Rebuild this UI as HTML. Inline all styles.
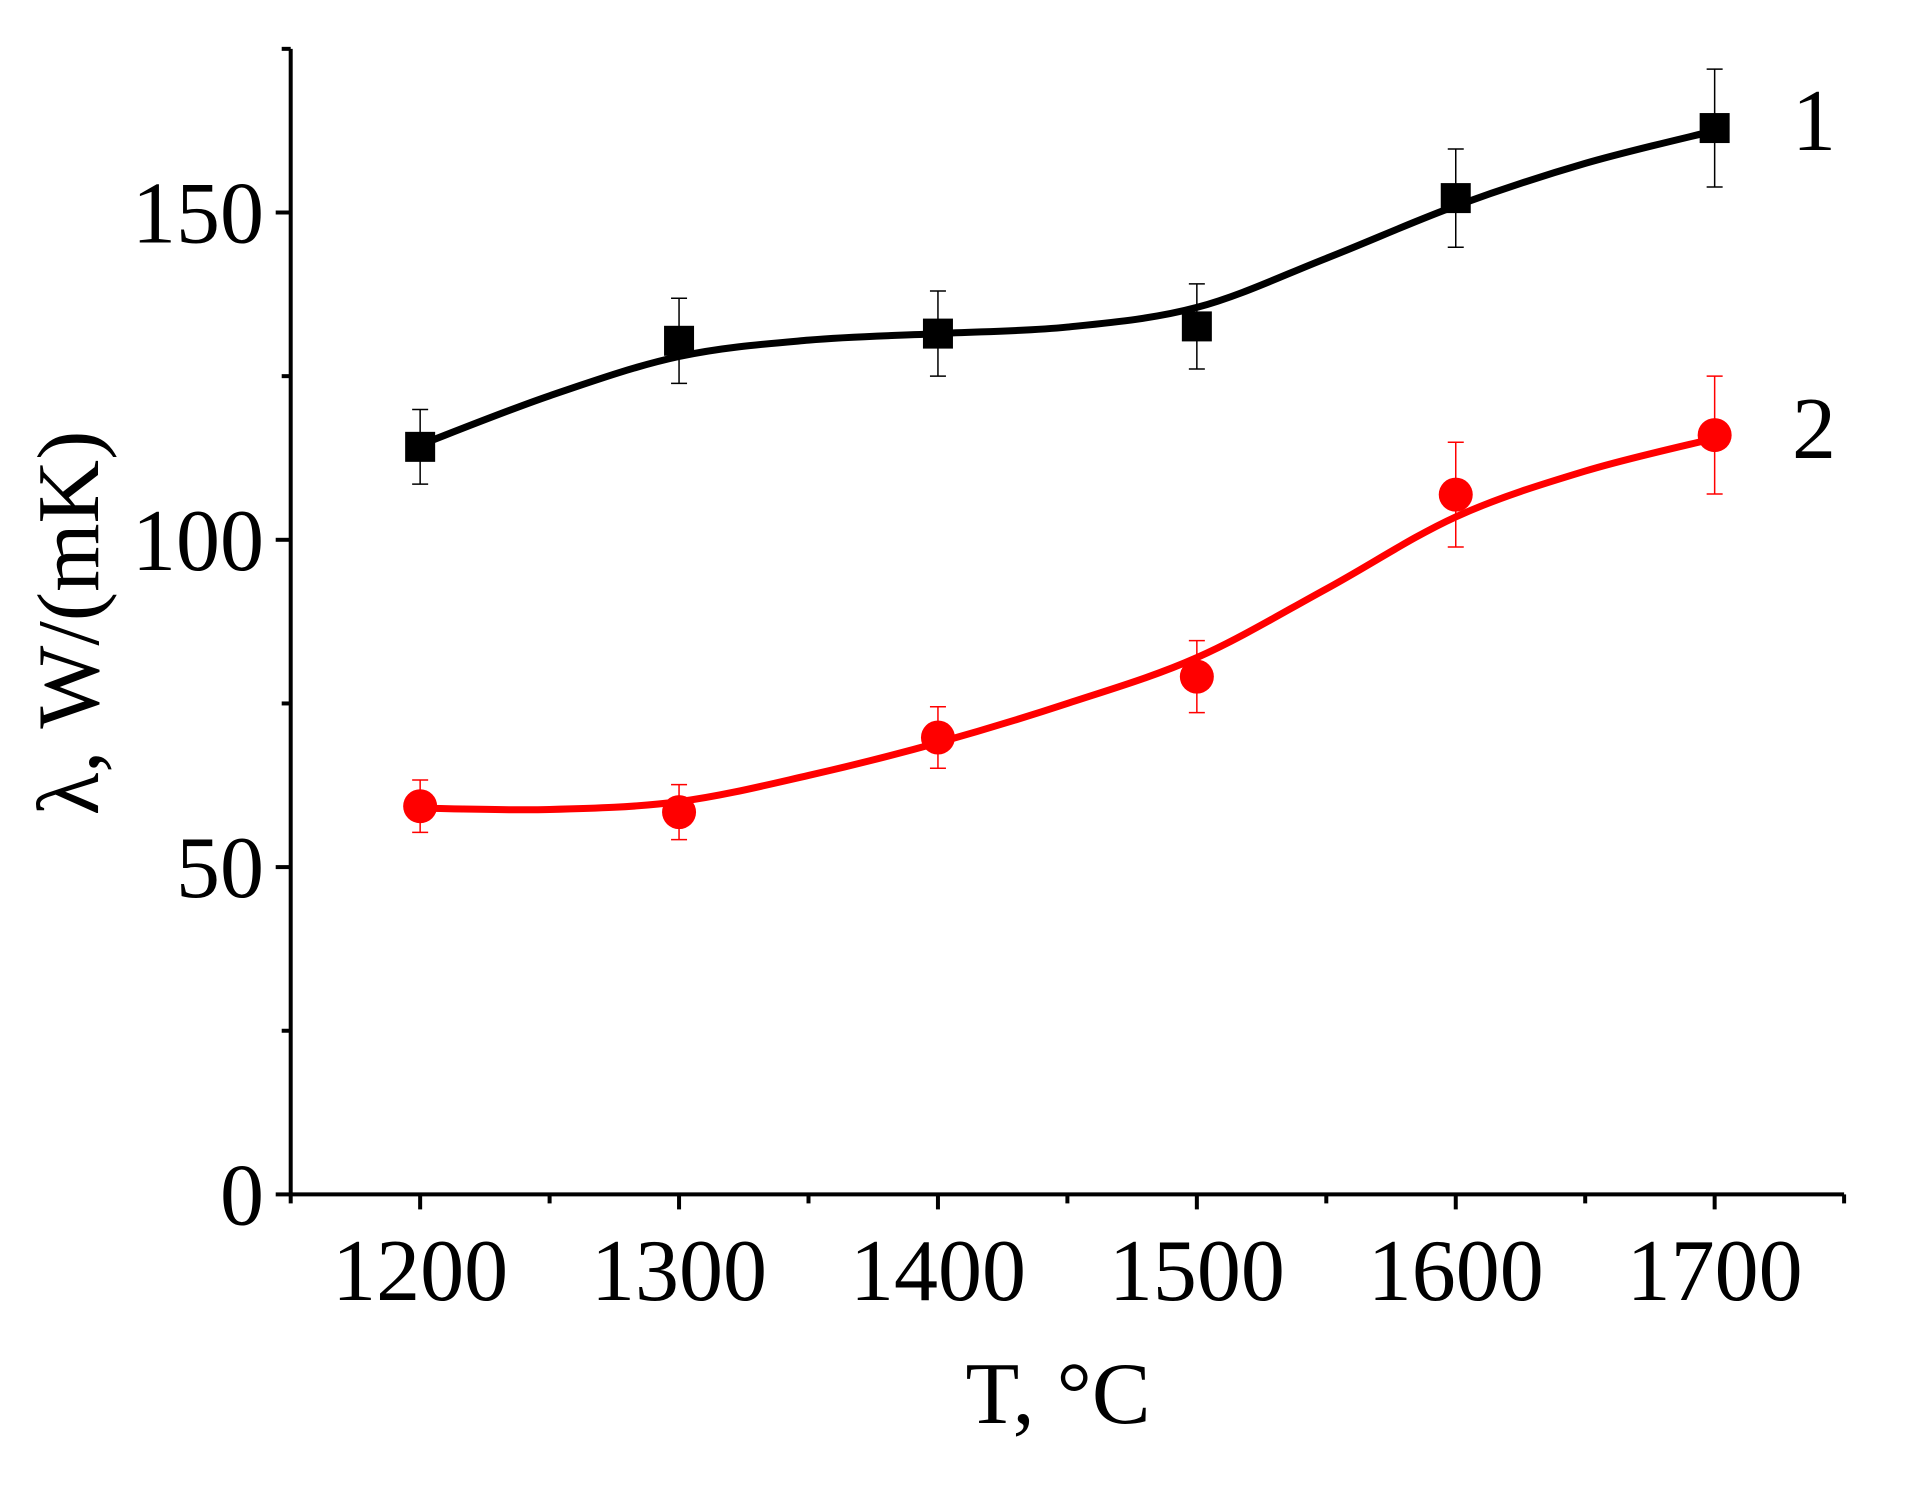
<!DOCTYPE html>
<html><head><meta charset="utf-8"><style>
html,body{margin:0;padding:0;background:#fff;}
svg text{font-family:"Liberation Serif",serif;}
</style></head><body>
<svg id="chart" width="1913" height="1491" viewBox="0 0 1913 1491" xmlns="http://www.w3.org/2000/svg"></svg>
<script>
const temps = [1200, 1300, 1400, 1500, 1600, 1700];
const series1 = [114.2, 130.4, 131.5, 132.6, 152.2, 162.9];
const err1 = [5.7, 6.5, 6.5, 6.5, 7.5, 9];
const series2 = [59.3, 58.4, 69.8, 79.1, 106.9, 116];
const err2 = [4, 4.2, 4.7, 5.5, 8, 9];
const fitT = [1200, 1250, 1300, 1350, 1400, 1450, 1500, 1550, 1600, 1650, 1700];
const fit1 = [114.5, 122, 128, 130.5, 131.5, 132.5, 135.5, 143, 151, 157.5, 162.5];
const fit2 = [59, 58.8, 60, 64, 69, 75, 82, 92.5, 103.5, 110.5, 115.5];
const xMajor = [1200, 1300, 1400, 1500, 1600, 1700];
const xMinor = [1150, 1250, 1350, 1450, 1550, 1650, 1750];
const yMajor = [0, 50, 100, 150];
const yMinor = [25, 75, 125, 175];

const NS = "http://www.w3.org/2000/svg";
const svg = document.getElementById('chart');
const X0 = 290.7, XMIN = 1150, XPX = 2.589;
const Y0 = 1194.4, YPX = 6.546;
const sx = v => X0 + (v - XMIN) * XPX;
const sy = v => Y0 - v * YPX;
function el(tag, attrs, parent) {
  const e = document.createElementNS(NS, tag);
  for (const k in attrs) e.setAttribute(k, attrs[k]);
  (parent || svg).appendChild(e);
  return e;
}
const ax = el('path', {d:`M${sx(1150)},${sy(175)} V${Y0} H${sx(1750)}`, fill:'none', stroke:'#000', 'stroke-width':4});


xMajor.forEach(v => {
  const t = el('line', {x1:sx(v), x2:sx(v), y1:Y0, y2:Y0+15, stroke:'#000','stroke-width':4});
  
  
  const l = el('text', {x:sx(v), y:1300, 'font-size':88, 'text-anchor':'middle'});
  l.textContent = v;
  
  
});
xMinor.forEach(v => {
  const t = el('line', {x1:sx(v), x2:sx(v), y1:Y0, y2:Y0+9, stroke:'#000','stroke-width':4});
  
  
});
yMajor.forEach(v => {
  const t = el('line', {x1:X0-15, x2:X0, y1:sy(v), y2:sy(v), stroke:'#000','stroke-width':4});
  
  
  const l = el('text', {x:264, y:sy(v)+30, 'font-size':88, 'text-anchor':'end'});
  l.textContent = v;
  
  
});
yMinor.forEach(v => {
  const t = el('line', {x1:X0-9, x2:X0, y1:sy(v), y2:sy(v), stroke:'#000','stroke-width':4});
  
  
});
const xt = el('text', {x:1058, y:1423, 'font-size':88, 'text-anchor':'middle'});
xt.textContent = 'T, \u00B0C';


const yt = el('text', {x:0, y:0, 'font-size':88, 'text-anchor':'middle', transform:'translate(98,623) rotate(-90)'});
yt.textContent = '\u03BB, W/(mK)';



function smooth(xs, ys) {
  const p = xs.map((x, i) => [sx(x), sy(ys[i])]);
  let d = `M${p[0][0]},${p[0][1]}`;
  for (let i = 0; i < p.length - 1; i++) {
    const a = p[i-1] || p[i], b = p[i], c = p[i+1], e = p[i+2] || c;
    d += ` C${b[0]+(c[0]-a[0])/6},${b[1]+(c[1]-a[1])/6} ${c[0]-(e[0]-b[0])/6},${c[1]-(e[1]-b[1])/6} ${c[0]},${c[1]}`;
  }
  return d;
}
function drawSeries(vals, errs, fit, color, shape, name) {
  const g = el('g', {});
  
  
  const f = el('path', {d:smooth(fitT, fit), fill:'none', stroke:color, 'stroke-width':7}, g);
  
  
  temps.forEach((t, i) => {
    const x = sx(t), y = sy(vals[i]), hi = sy(vals[i]+errs[i]), lo = sy(vals[i]-errs[i]);
    const eb = el('path', {d:`M${x},${hi} V${lo} M${x-8},${hi} H${x+8} M${x-8},${lo} H${x+8}`, stroke:color, 'stroke-width':1.5, fill:'none'}, g);
    
    
    let m;
    if (shape === 'square') m = el('rect', {x:x-15, y:y-15, width:30, height:30, fill:color}, g);
    else m = el('circle', {cx:x, cy:y, r:17, fill:color}, g);
    
    
  });
}
drawSeries(series1, err1, fit1, '#000', 'square', 'series-1');
drawSeries(series2, err2, fit2, '#ff0000', 'circle', 'series-2');
const l1 = el('text', {x:1814, y:150, 'font-size':88, 'text-anchor':'middle'});
l1.textContent = '1';


const l2 = el('text', {x:1814, y:458, 'font-size':88, 'text-anchor':'middle'});
l2.textContent = '2';


</script>
</body></html>
